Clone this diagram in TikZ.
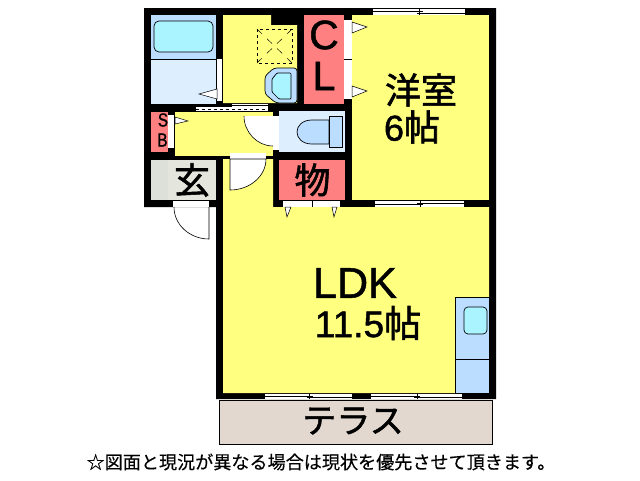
\documentclass[tikz,border=0pt]{standalone}
\usepackage{fontspec}
\setmainfont{Liberation Sans}[FakeBold=1.2]
\newfontfamily\jpfont{Noto Sans CJK JP}[FakeBold=1.5]
\newfontfamily\notefont{Noto Sans CJK JP}[FakeBold=0.3]
\definecolor{roomyellow}{HTML}{FFFF80}
\definecolor{roomred}{HTML}{FF8080}
\definecolor{palefblue}{HTML}{DDEEFF}
\definecolor{fixblue}{HTML}{BBDDFF}
\definecolor{fixcyan}{HTML}{AAF4FF}
\definecolor{entrygrey}{HTML}{E4E6DE}
\definecolor{entrydark}{HTML}{DCE0D8}
\definecolor{terrace}{HTML}{E2D8D0}
\tikzset{
    fixture/.style={draw=black,line width=0.7pt},
    doorwhite/.style={fill=white},
    swing/.style={draw=black,fill=white,line width=0.6pt},
    pointer/.style={draw=black,fill=white,line width=0.5pt},
    track/.style={draw=black,line width=0.6pt},
}
\begin{document}
\begin{tikzpicture}[x=1pt,y=-1pt]
        \useasboundingbox (0,0) rectangle (640,480);
        \fill[white] (0,0) rectangle (640,480);

        % walls
        \fill[black] (144,8) -- (496,8) -- (496,399) -- (216,399) -- (216,207) -- (144,207) -- cycle;

        % rooms
        \fill[roomyellow] (352,15) rectangle (489,200);
        \fill[roomyellow] (223,159) -- (273,159) -- (273,207) -- (489,207) -- (489,393) -- (223,393) -- cycle;
        \fill[roomyellow] (223,15) -- (271,15) -- (271,25) -- (297,25) -- (297,103) -- (223,103) -- cycle;
        \fill[roomyellow] (175,112) rectangle (273,156);
        \fill[roomred] (304,15) rectangle (344,104);
        \fill[roomred] (151,112) rectangle (168,152);
        \fill[roomred] (279,160) rectangle (345,200);
        \fill[entrydark] (151,160) rectangle (168,200);
        \fill[entrygrey] (168,160) rectangle (216,200);
        \fill[terrace,draw=black,line width=0.7pt] (219.5,400) rectangle (492.5,444);

        % bath
        \fill[palefblue] (151,59) rectangle (216,104);
        \fill[fixblue] (151,15) rectangle (216,59);
        \draw[fixture,fill=fixcyan,rounded corners=5pt] (154,21) rectangle (213,52);
        \draw[black,line width=0.5pt] (151,59) -- (216,59);
        \fill[doorwhite] (217,59) rectangle (222,101);
        \draw[pointer] (217,89) -- (199,94) -- (217,99) -- cycle;

        % wash basin
        \draw[fixture,fill=fixblue,rounded corners=3pt] (297,68) -- (274,68) -- (265,76) -- (265,94) -- (276,103) -- (297,103) -- cycle;
        \draw[fixture,fill=fixcyan,rounded corners=1pt] (291,73) -- (277,73) -- (272,79) -- (272,92) -- (279,99) -- (291,99) -- cycle;
        \draw[black,line width=0.7pt,dashed] (257,29) rectangle (292,63);
        \draw[black,line width=0.5pt,dash pattern=on 7pt off 7pt] (257,29) -- (292,63) (292,29) -- (257,63);

        % sliding door
        \fill[doorwhite] (196,107) rectangle (268,111);
        \fill[doorwhite] (232,104) rectangle (268,107);
        \draw[track] (232,105) -- (268,105);
        \draw[track,dashed] (196,109) -- (268,109);

        % closet doors
        \fill[doorwhite] (344,20) rectangle (352,99);
        \draw[black,line width=0.5pt] (344,59) -- (352,59);
        \draw[pointer] (352,22) -- (367,27) -- (352,33) -- cycle;
        \draw[pointer] (352,86) -- (367,91) -- (352,97) -- cycle;

        % SB door
        \fill[doorwhite] (168,115) rectangle (174,148);
        \draw[pointer] (175,117) -- (188,121) -- (175,124) -- cycle;

        % toilet
        \fill[palefblue] (279,111) rectangle (345,152);
        \draw[fixture,fill=fixblue] (329,120) -- (312,120) .. controls (292,120) and (292,144) .. (312,144) -- (329,144) -- cycle;
        \draw[fixture,fill=fixblue] (329,116) rectangle (342,147);
        \fill[doorwhite] (273,116) rectangle (279,150);
        \fill[white] (244,116) .. controls (244,132) and (257,146) .. (273,146) -- (273,116) -- cycle;
        \draw[swing,fill=none] (244,116) .. controls (244,132) and (257,146) .. (273,146);

        % entrance door
        \fill[doorwhite] (173,201) rectangle (209,207);
        \draw[swing,fill=none] (174,207) .. controls (174,225) and (190,239) .. (209,239) -- (209,207);

        % hall door
        \fill[doorwhite] (230,153) rectangle (266,159);
        \draw[swing] (266,159) .. controls (266,176) and (250,190) .. (230,190) -- (230,159) -- cycle;

        % storage doors
        \fill[doorwhite] (283,201) rectangle (340,207);
        \draw[black,line width=0.5pt] (312,201) -- (312,207);
        \draw[pointer] (285,207) -- (287,217) -- (291,207) -- cycle;
        \draw[pointer] (332,207) -- (334,217) -- (337,207) -- cycle;

        % kitchen
        \draw[black,line width=0.5pt,fill=fixblue] (455,297) rectangle (489,393);
        \draw[black,line width=0.5pt] (455,359) -- (489,359);
        \draw[fixture,fill=fixcyan,rounded corners=4pt] (464,307) rectangle (487,334);

        % windows
        \fill[doorwhite] (373,9) rectangle (465,15);
        \draw[track] (373,11.5) -- (423,11.5) (417,13) -- (465,13) (419,9) -- (419,15);
        \fill[doorwhite] (375,201) rectangle (464,207);
        \draw[track] (375,204.5) -- (423,204.5) (417,203) -- (464,203) (420,201) -- (420,207);
        \fill[doorwhite] (265,394) rectangle (352,399);
        \draw[track] (265,396) -- (313,396) (307,397.5) -- (352,397.5) (309,394) -- (309,399);
        \fill[doorwhite] (371,394) rectangle (462,399);
        \draw[track] (371,396) -- (420,396) (414,397.5) -- (462,397.5) (417,394) -- (417,399);

        % labels
        \begin{scope}[every node/.style={inner sep=0pt,text=black}]
            \node (cl1) at (324,35) {\fontsize{41}{41}\selectfont C};
            \node (cl2) at (324,76) {\fontsize{41}{41}\selectfont L};
            \node[xscale=0.8] (sb1) at (163,120) {\fontsize{19}{19}\selectfont S};
            \node[xscale=0.8] (sb2) at (162.5,140) {\fontsize{19}{19}\selectfont B};
            \node (yoshitsu) at (421,90) {\jpfont\fontsize{36}{36}\selectfont 洋室};
            \node (six) at (412,127) {\fontsize{36}{36}\selectfont 6\jpfont 帖};
            \node (ldk) at (355,283) {\fontsize{43}{43}\selectfont LDK};
            \node (area) at (368,323) {\fontsize{37}{37}\selectfont 11.5\jpfont 帖};
            \node (genkan) at (192,180) {\jpfont\fontsize{36}{36}\selectfont 玄};
            \node (mono) at (312.5,180) {\jpfont\fontsize{36}{36}\selectfont 物};
            \node (terasu) at (353,421) {\jpfont\fontsize{34}{34}\selectfont テラス};
            \node (note) at (321,462) {\notefont\fontsize{18.1}{18}\selectfont ☆図面と現況が異なる場合は現状を優先させて頂きます。};
        \end{scope}
    \end{tikzpicture}
\end{document}
